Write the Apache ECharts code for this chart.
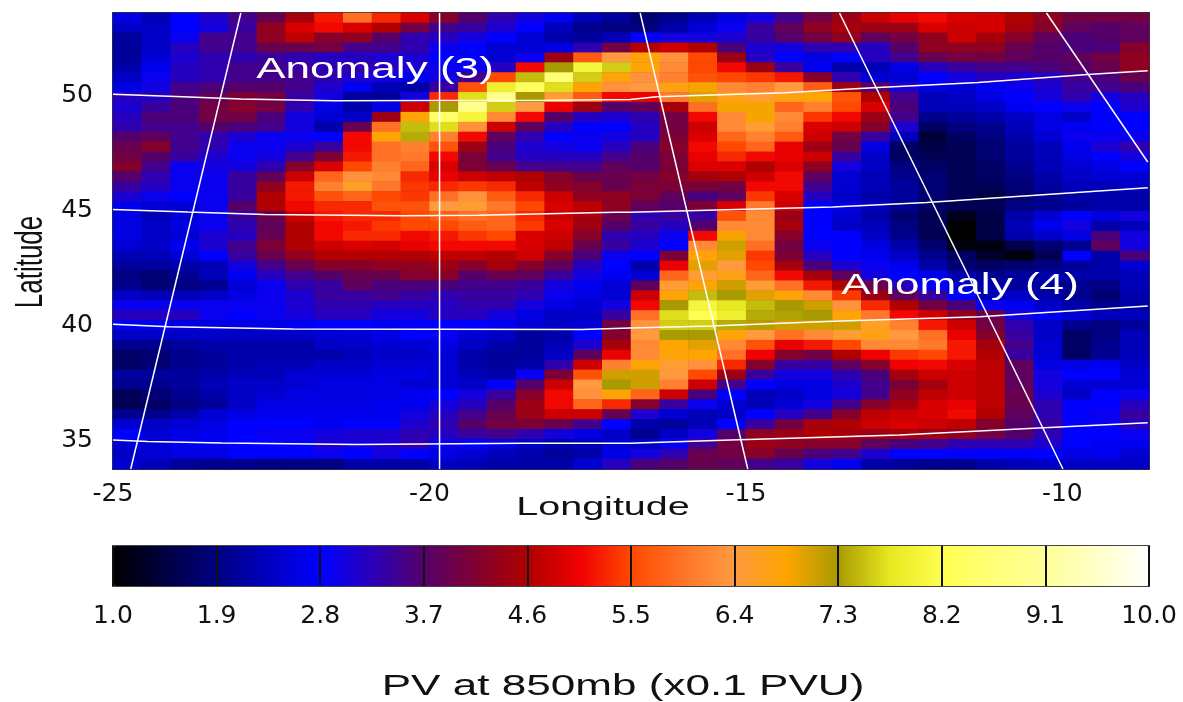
<!DOCTYPE html>
<html>
<head>
<meta charset="utf-8">
<title>PV at 850mb</title>
<script src="https://cdn.jsdelivr.net/npm/echarts@6/dist/echarts.min.js"></script>
<style>
  html, body { margin: 0; padding: 0; background: #fff; }
  #chart { width: 1183px; height: 702px; }
</style>
</head>
<body>
<div id="chart"></div>
<script>
// PV values, top row first, west to east
const pvRows = [
  [2.6,2.3,2.8,3.1,3.5,3.9,4.5,5.2,5.9,5.3,4.9,4.2,3.7,3.3,3.0,2.7,2.3,2.1,1.8,2.0,2.3,2.6,3.0,3.5,4.0,4.4,4.8,5.0,5.1,4.9,4.85,4.6,4.3,4.0,4.0,4.0],
  [2.4,2.4,2.8,3.0,3.4,4.3,4.9,5.1,4.9,4.6,4.0,3.5,3.4,3.1,2.8,2.3,2.0,1.9,1.9,2.2,2.5,2.9,3.4,3.8,4.3,4.5,4.4,4.4,4.9,4.8,4.85,4.5,4.2,3.8,3.7,3.8],
  [2.1,2.4,2.9,3.5,3.5,4.3,4.7,4.2,4.3,3.7,3.3,3.2,3.0,2.8,2.5,2.2,2.1,2.3,2.8,3.0,3.0,3.1,3.4,3.7,4.0,4.3,3.8,4.0,4.3,4.8,4.5,4.2,3.8,3.6,3.7,3.8],
  [2.1,2.4,3.2,3.5,3.5,3.9,3.9,4.0,3.5,3.5,3.3,2.9,2.8,2.5,2.5,2.6,3.3,4.0,4.6,4.8,4.6,3.6,3.1,3.0,3.3,3.3,3.2,3.7,4.3,4.3,4.3,3.9,3.7,3.6,3.6,4.2],
  [2.1,2.5,3.1,3.3,3.3,3.4,3.3,3.2,3.2,3.1,3.1,2.8,2.8,2.5,2.9,4.4,5.7,6.4,6.8,6.3,5.5,4.4,3.2,2.8,2.6,2.8,3.2,3.5,3.9,4.0,4.0,3.8,3.7,3.8,4.0,4.3],
  [2.2,2.7,3.2,3.3,3.5,3.5,3.4,3.3,3.3,3.2,3.1,2.9,2.9,3.2,5.1,7.3,8.0,7.6,6.8,6.2,5.5,5.1,4.4,3.4,2.7,2.2,2.3,2.6,3.2,3.4,3.5,3.5,3.6,3.7,3.9,4.3],
  [2.4,2.9,3.2,3.3,3.5,3.5,3.5,3.3,3.1,3.0,2.7,3.0,3.5,5.5,7.5,8.6,7.6,6.8,6.3,6.1,5.6,5.5,5.4,5.2,4.2,3.3,2.5,2.5,2.8,3.0,3.2,3.1,3.2,3.5,3.6,3.9],
  [2.6,3.0,3.5,3.6,3.7,3.7,3.5,3.1,2.7,2.3,2.2,3.4,5.6,7.9,8.4,7.7,6.8,6.3,6.4,6.7,6.9,6.2,6.1,6.4,5.7,4.4,3.7,3.1,2.6,2.5,2.7,2.9,3.1,3.4,3.5,3.6],
  [3.2,3.2,3.6,3.8,4.1,4.0,3.4,3.0,2.1,2.1,3.0,5.3,7.7,8.9,7.3,6.5,5.7,5.1,5.0,6.0,7.0,6.7,6.5,6.7,6.8,5.6,4.6,3.5,2.3,2.4,2.6,2.8,3.0,3.3,3.0,3.2],
  [3.1,3.4,3.6,4.0,4.2,4.0,3.3,2.6,2.2,2.6,4.8,7.3,8.9,7.6,6.4,5.0,4.4,3.7,3.8,4.5,5.9,6.9,6.9,5.8,6.1,5.5,4.9,3.6,2.3,2.3,2.4,2.7,2.8,2.9,2.8,3.1],
  [3.2,3.6,3.6,4.0,4.0,3.6,3.0,2.5,2.4,4.4,6.8,8.5,8.0,6.2,5.1,3.7,3.2,3.1,3.3,4.0,5.1,6.2,6.9,6.2,5.4,5.1,4.4,3.5,2.0,2.1,2.2,2.4,2.6,2.4,2.8,2.8],
  [3.3,3.5,3.5,3.7,3.6,3.5,3.0,2.2,3.9,5.9,7.5,7.7,6.3,4.8,3.8,3.2,2.8,2.8,3.2,4.0,4.8,6.2,6.5,6.1,4.9,4.8,4.2,3.1,1.7,1.9,2.0,2.3,2.6,2.7,2.8,2.8],
  [3.7,3.8,3.5,3.3,3.1,2.9,2.9,2.8,5.1,6.8,7.4,6.1,5.1,3.8,3.3,2.8,2.9,3.0,3.2,4.1,4.9,5.8,6.1,5.7,4.8,4.0,3.4,2.3,1.4,1.7,1.9,2.2,2.5,2.9,2.9,2.9],
  [3.9,4.2,3.5,3.3,2.9,2.9,3.1,3.4,5.1,5.9,6.1,5.6,4.4,3.6,3.1,3.0,2.9,3.2,3.6,4.2,5.1,5.5,5.8,5.0,4.4,3.9,2.6,1.7,1.5,1.6,1.8,2.1,2.3,2.7,3.1,3.3],
  [4.0,3.7,3.4,3.1,2.9,3.0,3.5,4.1,5.2,5.9,6.0,5.1,4.1,3.5,3.2,3.2,3.2,3.5,3.7,4.1,5.0,5.3,5.1,5.0,4.8,3.4,2.4,1.7,1.6,1.6,1.8,2.1,2.3,2.6,2.8,3.0],
  [4.2,3.5,2.9,3.0,3.0,3.3,4.2,4.9,5.5,6.1,5.8,4.9,4.1,3.9,3.5,3.5,3.5,3.8,3.7,4.1,4.9,4.9,4.6,4.9,4.3,3.0,2.4,1.9,1.7,1.6,1.7,2.0,2.3,2.5,2.6,2.8],
  [3.7,3.3,2.9,2.9,3.4,3.8,4.8,5.8,6.3,6.2,5.3,5.0,4.8,4.7,4.6,4.2,3.9,3.9,4.0,4.2,4.5,4.6,4.8,5.1,3.8,2.5,2.3,2.0,1.8,1.6,1.7,1.9,2.2,2.4,2.5,2.5],
  [3.4,3.2,2.9,2.9,3.4,4.3,5.2,6.1,6.6,6.0,5.4,5.3,5.4,5.3,4.7,4.3,4.2,3.9,4.1,4.1,4.1,4.0,5.1,5.1,3.5,2.5,2.3,2.1,1.8,1.6,1.6,1.8,2.1,2.3,2.3,2.4],
  [3.1,2.9,2.8,2.9,3.4,4.6,5.2,5.6,5.8,5.5,5.4,5.9,6.3,5.7,5.3,4.8,4.3,4.3,4.1,3.8,3.6,3.8,5.4,4.9,3.2,2.4,2.2,2.1,1.8,1.6,1.5,1.8,2.0,2.2,2.2,2.2],
  [2.7,2.5,2.5,2.9,3.7,4.6,5.1,5.3,5.3,5.6,5.6,6.4,6.5,6.0,5.5,4.9,4.7,4.3,3.8,3.7,4.1,4.9,6.0,4.8,2.8,2.6,2.3,2.0,1.7,1.6,1.6,1.9,2.0,2.1,2.2,2.2],
  [2.6,2.3,2.5,2.9,3.4,3.9,4.8,5.2,5.3,5.3,5.5,5.7,5.9,5.8,5.3,4.8,4.5,3.9,3.3,3.4,3.4,5.6,6.2,4.4,2.8,2.5,2.2,1.8,1.6,1.2,1.5,2.2,2.5,2.8,2.6,3.0],
  [2.6,2.4,2.6,2.9,3.3,3.8,4.6,5.1,5.2,5.4,5.5,5.5,5.7,5.8,5.4,4.9,4.4,3.7,3.4,3.2,3.7,6.2,6.2,4.5,2.8,2.4,2.3,1.9,1.6,1.0,1.5,2.3,2.7,3.0,2.2,2.3],
  [2.6,2.4,2.5,3.1,3.2,3.9,4.6,5.1,5.3,5.3,5.1,5.2,5.4,5.5,4.9,4.8,4.2,3.3,3.2,2.9,5.1,6.9,6.2,4.2,2.8,2.8,2.4,2.0,1.6,1.0,1.5,2.2,2.4,2.6,3.6,3.0],
  [2.5,2.4,2.7,3.1,3.5,4.1,4.6,4.8,4.9,4.85,5.0,5.1,5.1,5.1,4.9,4.7,3.9,3.4,3.1,2.8,6.2,7.1,5.9,4.0,2.9,2.8,2.6,2.2,1.8,1.1,1.1,1.5,1.8,2.0,3.8,3.0],
  [2.3,2.3,2.5,2.8,3.4,3.9,4.3,4.6,4.6,4.6,4.6,4.7,4.7,4.6,4.8,4.2,3.6,2.9,2.8,4.1,6.8,7.0,5.4,4.1,3.2,2.8,2.7,2.4,2.0,1.7,1.3,1.1,1.6,2.8,2.2,3.6],
  [2.1,2.1,2.2,2.3,3.0,3.5,3.9,4.2,4.2,4.3,4.3,4.4,4.2,4.5,4.2,3.8,3.2,2.8,2.2,5.0,7.0,6.4,5.5,4.5,3.6,3.1,2.9,2.7,2.2,1.8,1.7,1.8,1.9,2.1,2.2,2.5],
  [1.9,1.8,2.0,2.3,2.7,3.2,3.5,3.7,3.9,3.9,4.2,4.2,3.7,3.9,3.8,3.4,3.0,2.7,2.5,5.8,6.5,6.7,5.8,5.1,4.5,3.8,3.0,2.8,2.7,2.2,2.0,2.1,2.2,2.2,2.2,2.3],
  [2.0,1.8,1.9,2.0,2.5,2.9,3.3,3.4,3.8,3.6,3.6,3.6,3.5,3.5,3.4,3.0,2.7,2.5,3.8,6.5,6.8,7.1,6.5,5.9,5.2,4.6,3.9,3.2,2.8,2.4,2.2,2.1,2.1,2.0,1.9,2.3],
  [2.4,2.3,2.3,2.4,2.6,2.9,3.1,3.4,3.4,3.5,3.4,3.3,3.4,3.4,3.3,2.9,2.6,2.5,4.8,6.8,7.5,7.3,7.0,6.8,6.2,5.4,4.4,3.8,3.4,2.8,2.3,2.4,2.2,2.0,1.8,2.2],
  [2.9,2.9,2.9,2.9,2.9,2.9,3.1,3.3,3.3,3.2,3.2,3.2,3.3,3.3,3.0,2.6,2.5,3.0,5.1,7.3,8.0,7.75,7.5,7.3,7.1,6.3,5.3,4.6,4.0,3.6,2.9,2.7,2.4,2.2,2.0,2.2],
  [3.2,3.2,3.2,2.9,2.8,2.9,3.0,3.2,3.2,3.0,3.0,3.2,3.2,3.0,2.6,2.4,2.4,3.4,5.9,7.7,8.2,7.9,7.4,7.35,7.3,6.8,6.0,5.1,4.8,4.3,3.9,3.0,2.7,2.5,2.3,2.3],
  [2.7,2.7,2.6,2.6,2.6,2.6,2.7,2.8,2.8,2.7,2.8,2.8,2.8,2.7,2.5,2.4,2.5,4.0,6.3,7.6,7.6,7.4,7.2,7.1,7.1,7.1,6.6,6.1,5.2,4.8,4.0,3.3,2.4,2.0,1.9,2.1],
  [2.4,2.4,2.4,2.4,2.4,2.4,2.4,2.5,2.5,2.6,2.8,2.9,2.5,2.4,2.1,2.2,2.8,4.2,6.4,7.3,7.3,6.8,6.4,5.9,6.2,6.5,6.7,6.4,5.9,5.0,4.2,3.4,2.4,1.7,1.9,2.3],
  [2.0,2.0,2.1,2.2,2.2,2.2,2.2,2.4,2.4,2.5,2.5,2.6,2.4,2.2,2.1,2.3,3.1,4.5,6.2,6.85,7.0,6.2,5.6,5.0,5.2,5.5,6.2,6.2,6.0,5.2,4.5,3.5,2.5,1.7,2.0,2.3],
  [1.7,1.8,2.0,2.1,2.2,2.2,2.2,2.2,2.3,2.4,2.4,2.5,2.2,2.1,2.1,2.4,3.8,5.0,6.2,6.8,6.85,5.9,5.05,4.2,4.0,4.6,5.05,5.4,5.5,5.2,4.6,3.4,2.5,1.7,2.0,2.3],
  [1.7,1.8,2.0,2.1,2.2,2.3,2.3,2.4,2.4,2.5,2.5,2.5,2.2,2.1,2.2,3.3,4.8,6.1,6.8,6.5,6.3,5.3,4.2,3.4,3.4,3.8,4.2,5.05,5.1,4.9,4.7,3.8,2.6,2.6,2.7,2.4],
  [2.1,2.1,2.1,2.2,2.3,2.3,2.5,2.5,2.5,2.6,2.6,2.5,2.3,2.2,2.9,4.1,5.6,7.1,7.1,6.4,5.5,4.4,3.4,3.0,3.0,3.3,3.6,4.5,4.8,4.8,4.7,3.8,3.0,2.8,2.8,2.5],
  [2.0,2.0,2.1,2.3,2.4,2.4,2.5,2.6,2.6,2.6,2.5,2.5,2.4,2.8,3.7,4.8,6.4,7.3,7.1,6.1,4.8,3.5,2.8,2.6,2.6,3.1,3.5,4.1,4.5,4.8,4.7,3.8,3.0,2.5,2.5,2.5],
  [1.6,1.8,2.0,2.2,2.4,2.5,2.6,2.6,2.6,2.6,2.7,2.8,3.0,3.4,4.2,5.1,6.3,6.8,5.8,4.8,3.6,2.8,2.3,2.4,2.6,3.0,3.5,4.3,4.7,4.8,4.7,3.9,3.1,2.4,2.8,2.9],
  [1.6,1.7,1.9,2.1,2.4,2.6,2.6,2.6,2.6,2.7,2.7,3.0,3.2,3.7,4.4,5.1,5.8,5.3,4.2,3.4,2.9,2.5,2.3,2.5,3.0,3.5,4.2,4.5,4.9,5.0,4.7,3.9,3.3,2.8,2.8,3.2],
  [2.0,2.0,2.2,2.5,2.6,2.7,2.7,2.7,2.7,2.7,3.0,3.2,3.5,3.9,4.4,4.8,4.8,3.9,3.1,2.5,2.3,2.4,2.8,3.2,3.5,4.2,4.7,4.8,4.9,5.1,4.6,3.8,3.3,2.8,2.9,3.4],
  [2.5,2.4,2.5,2.6,2.8,2.8,2.8,2.7,2.8,2.8,3.1,3.3,3.7,4.0,4.1,3.9,3.5,2.8,2.2,2.1,2.3,2.8,3.4,4.0,4.5,4.6,4.8,4.9,4.8,4.7,4.2,3.7,3.4,2.8,2.9,3.2],
  [2.8,2.5,2.6,2.7,2.8,2.9,2.9,3.0,3.1,3.1,3.3,3.2,3.4,3.5,3.3,3.0,2.6,2.4,2.0,2.4,3.0,3.7,4.3,4.4,4.6,4.5,4.4,4.5,4.4,4.3,4.0,3.7,3.3,2.8,2.8,2.9],
  [2.5,2.5,2.7,2.7,2.8,2.8,2.8,3.1,3.0,3.1,3.3,2.9,2.8,2.6,2.4,2.2,2.3,2.5,2.4,2.9,3.5,4.0,4.4,4.3,4.2,4.2,3.8,3.6,3.5,3.3,3.3,3.3,3.1,2.8,2.7,2.7],
  [2.4,2.5,2.6,2.6,2.8,2.8,2.8,2.9,2.8,3.0,2.8,2.6,2.5,2.3,2.2,2.1,2.2,2.6,3.0,3.3,3.9,4.0,4.2,3.9,3.6,3.5,3.1,2.8,2.8,2.8,2.8,2.8,2.8,2.6,2.7,2.5],
  [2.5,2.3,2.1,2.0,2.0,1.9,1.9,1.9,2.2,2.2,2.2,2.4,2.3,2.2,2.2,2.2,2.5,3.2,3.6,3.7,3.9,3.8,3.5,3.4,3.0,2.7,2.2,2.1,2.0,2.0,2.2,2.3,2.4,2.4,2.4,2.4]
]

const lonTicks = [-25, -20, -15, -10]
const latTicks = [35, 40, 45, 50]
const colorbarTicks = [1.0, 1.9, 2.8, 3.7, 4.6, 5.5, 6.4, 7.3, 8.2, 9.1, 10.0]

// colour ramp, evenly spaced from 1.0 to 10.0
const pvColors = [
  '#000000', '#000040', '#000080', '#0000c0', '#0000ff', '#2a00b8', '#55006a',
  '#800030', '#b00000', '#f00000', '#ff4800', '#ff7428', '#ff9a40', '#ffa500',
  '#a89a00', '#e8e820', '#ffff50', '#ffff78', '#ffff99', '#ffffc8', '#ffffff'
]

// map grid drawn over the field, as [lon, lat]
const parallel50 = [[-25,50.04],[-23.9,49.93],[-22.98,49.83],[-21.51,49.75],[-18.13,49.78],[-16.83,49.81],[-16.41,49.93],[-14.38,50.1],[-12.99,50.32],[-11.33,50.55],[-9.6,50.9],[-8.65,51.06]]
const parallel45 = [[-25,45.03],[-23.82,44.92],[-22.6,44.81],[-20.42,44.75],[-19.22,44.78],[-17.07,44.9],[-16.83,44.9],[-13.63,45.13],[-12.14,45.33],[-8.65,45.97]]
const parallel40 = [[-25,40.03],[-24.12,39.93],[-22.16,39.83],[-17.59,39.81],[-16.83,39.87],[-15.55,39.96],[-13.63,40.16],[-11.3,40.36],[-9.89,40.61],[-8.65,40.83]]
const parallel35 = [[-25,35],[-24.45,34.94],[-23.28,34.87],[-21.15,34.81],[-18.51,34.86],[-16.83,34.86],[-15.24,35],[-12.57,35.22],[-10.37,35.52],[-8.65,35.75]]
const meridianA = [[-22.98,53.57],[-24.72,33.74]]
const meridianB = [[-19.84,53.57],[-19.84,33.74]]
const meridianC = [[-16.67,53.57],[-14.97,33.74]]
const meridianD = [[-13.52,53.57],[-9.99,33.74]]
const meridianE = [[-10.25,53.57],[-8.65,47.09]]

const gridLines = [parallel50, parallel45, parallel40, parallel35, meridianA, meridianB, meridianC, meridianD, meridianE]

const labelFont = '"DejaVu Sans", sans-serif'
const nameFont = '"Liberation Sans", sans-serif'

const heatData = []
pvRows.forEach((row, r) => {
  row.forEach((v, c) => heatData.push([c, r, v]))
})

const stretchedText = (text, x, y, size, color, extra) => ({
  type: 'text',
  x: x,
  y: y,
  z: 100,
  silent: true,
  scaleX: 1.52,
  style: {
    text: text,
    fill: color,
    font: size + 'px ' + nameFont,
    textAlign: 'center',
    textVerticalAlign: 'middle'
  },
  ...extra
})

const chart = echarts.init(document.getElementById('chart'))

chart.setOption({
  animation: false,
  backgroundColor: '#ffffff',
  grid: [
    // the plot background is a mid blue so the hairlines between cells do not show
    { left: 113, top: 13, width: 1036, height: 456, outerBoundsMode: 'none', show: true, borderColor: '#333', borderWidth: 2, backgroundColor: '#1a0090' },
    { left: 113, top: 546, width: 1036, height: 40, outerBoundsMode: 'none', show: true, borderColor: '#444', borderWidth: 2, backgroundColor: 'transparent' }
  ],
  xAxis: [
    { type: 'category', gridIndex: 0, show: false, position: 'top', data: pvRows[0].map((_, i) => i) },
    {
      type: 'value', gridIndex: 0, position: 'bottom', min: -25, max: -8.63,
      axisLine: { show: false },
      axisTick: { show: false, customValues: lonTicks },
      splitLine: { show: false },
      axisLabel: { customValues: lonTicks, margin: 13, color: '#111', fontFamily: labelFont, fontSize: 25 }
    },
    {
      type: 'value', gridIndex: 1, position: 'bottom', min: 1, max: 10, z: 10,
      axisLine: { show: false },
      axisTick: { show: true, inside: true, length: 40, customValues: colorbarTicks, lineStyle: { color: '#111', width: 2 } },
      splitLine: { show: false },
      axisLabel: {
        customValues: colorbarTicks, margin: 18, color: '#111', fontFamily: labelFont, fontSize: 25,
        formatter: v => v.toFixed(1)
      }
    }
  ],
  yAxis: [
    { type: 'category', gridIndex: 0, show: false, position: 'right', inverse: true, data: pvRows.map((_, i) => i) },
    {
      type: 'value', gridIndex: 0, position: 'left', min: 33.74, max: 53.57,
      axisLine: { show: false },
      axisTick: { show: false, customValues: latTicks },
      splitLine: { show: false },
      axisLabel: { customValues: latTicks, margin: 20, padding: [3, 0, 0, 0], color: '#111', fontFamily: labelFont, fontSize: 25 }
    },
    { type: 'value', gridIndex: 1, min: 0, max: 1, show: false }
  ],
  visualMap: {
    type: 'continuous',
    seriesIndex: 0,
    min: 1,
    max: 10,
    orient: 'horizontal',
    left: 113,
    top: 546,
    padding: 0,
    itemWidth: 40,
    itemHeight: 1036,
    calculable: false,
    hoverLink: false,
    inRange: { color: pvColors }
  },
  graphic: [
    stretchedText('Anomaly (3)', 375, 70, 29, '#ffffff'),
    stretchedText('Anomaly (4)', 960, 286, 29, '#ffffff'),
    stretchedText('Longitude', 603, 508, 26, '#111111'),
    stretchedText('PV at 850mb (x0.1 PVU)', 623, 687, 29, '#111111'),
    stretchedText('Latitude', 31, 262, 26, '#111111', { rotation: Math.PI / 2, scaleX: 1, scaleY: 1.52 })
  ],
  series: [
    {
      type: 'heatmap',
      xAxisIndex: 0,
      yAxisIndex: 0,
      data: heatData,
      silent: true,
      progressive: 0
    },
    ...gridLines.map(line => ({
      type: 'line',
      xAxisIndex: 1,
      yAxisIndex: 1,
      data: line,
      symbol: 'none',
      silent: true,
      z: 5,
      lineStyle: { color: '#ffffff', width: 1.5 }
    }))
  ]
})
</script>
</body>
</html>
